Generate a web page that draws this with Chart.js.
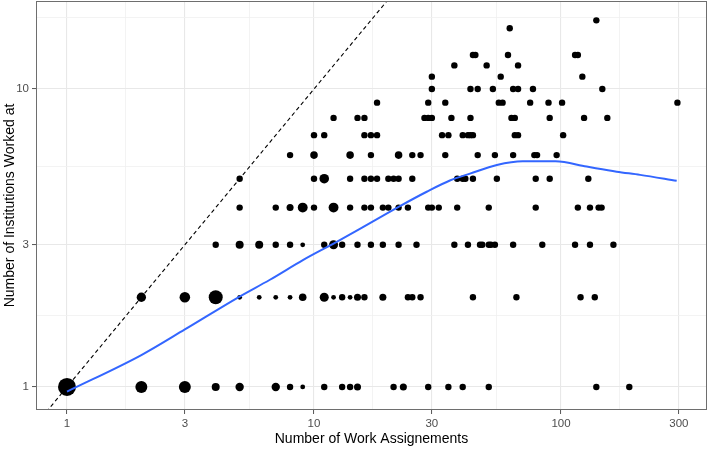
<!DOCTYPE html>
<html>
<head>
<meta charset="utf-8">
<script src="https://cdn.jsdelivr.net/npm/chart.js@4.4.0/dist/chart.umd.min.js"></script>
<style>
  html, body { margin: 0; padding: 0; background: #fff; }
</style>
</head>
<body>
<canvas id="chart" width="709" height="450" style="width:709px;height:450px;display:block"></canvas>
<script>
// number of institutions (one entry per row of points)
const institutions = [1, 2, 3, 4, 5, 6, 7, 8, 9, 10, 11, 12, 13, 16, 17];

// number of work assignments for each row
const assignments = [
  [1, 2, 3, 4, 5, 7, 8, 9, 11, 13, 14, 15, 21, 23, 29, 35, 40, 51, 139, 189],
  [2, 3, 4, 5, 6, 7, 8, 9, 11, 12, 13, 14, 15, 16, 19, 24, 25, 27, 44, 66, 120, 137],
  [4, 5, 6, 7, 8, 9, 11, 12, 13, 15, 17, 19, 22, 26, 37, 42, 47, 48, 51, 52, 54, 64, 84, 114, 131, 163],
  [5, 7, 8, 9, 10, 12, 14, 16, 17, 19, 20, 22, 24, 29, 30, 32, 38, 51, 79, 117, 131, 142, 146],
  [5, 10, 11, 14, 16, 17, 18, 20, 21, 22, 25, 38, 40, 41, 44, 55, 79, 90, 129],
  [8, 10, 14, 17, 22, 25, 27, 34, 46, 54, 64, 78, 80, 96],
  [10, 11, 16, 17, 18, 33, 35, 40, 42, 43, 44, 65, 67, 102],
  [12, 15, 16, 28, 29, 30, 36, 43, 63, 65, 90, 124, 154],
  [18, 29, 34, 56, 58, 75, 89, 101, 296],
  [30, 43, 46, 53, 64, 67, 77, 147],
  [30, 57, 122],
  [37, 50, 67],
  [44, 45, 61, 114, 117],
  [62],
  [139]
];

// how many people share each point (drives the dot size)
const counts = [
  [69, 21, 21, 5, 6, 6, 2, 1, 2, 2, 2, 3, 2, 3, 2, 2, 2, 2, 2, 2],
  [9, 14, 34, 1, 1, 1, 1, 4, 8, 1, 2, 1, 3, 2, 3, 2, 2, 2, 2, 2, 2, 2],
  [2, 5, 5, 2, 2, 1, 2, 8, 2, 2, 2, 2, 2, 2, 2, 2, 2, 2, 2, 2, 2, 2, 2, 2, 2, 2],
  [2, 2, 3, 11, 2, 11, 2, 2, 2, 2, 2, 2, 2, 2, 2, 2, 2, 2, 2, 2, 2, 2, 2],
  [2, 2, 10, 2, 2, 2, 2, 2, 2, 2, 2, 2, 2, 2, 2, 2, 2, 2, 2],
  [2, 4, 4, 2, 4, 2, 2, 2, 2, 2, 2, 2, 2, 2],
  [2, 2, 2, 2, 2, 2, 2, 2, 2, 2, 2, 2, 2, 2],
  [2, 2, 2, 2, 2, 2, 2, 2, 2, 2, 2, 2, 2],
  [2, 2, 2, 2, 2, 2, 2, 2, 2],
  [2, 2, 2, 2, 2, 2, 2, 2],
  [2, 2, 2],
  [2, 2, 2],
  [2, 2, 2, 2, 2],
  [2],
  [2]
];

// loess smooth (blue line)
const smoothX = [1, 2, 3.0, 4.94, 6.63, 9.05, 12, 15.4, 22.1, 28.6, 35.5, 42.8, 55, 70, 95, 127, 168, 209, 294];
const smoothY = [0.965, 1.28, 1.56, 2.0, 2.29, 2.67, 3.03, 3.40, 4.03, 4.52, 4.93, 5.2, 5.56, 5.72, 5.72, 5.49, 5.28, 5.15, 4.92];

// y = x reference line
const refX = [0.5, 30];
const refY = [0.5, 30];

// axis ticks
const xTicks = [1, 3, 10, 30, 100, 300];
const yTicks = [1, 3, 10];

const FONT = "'Liberation Sans', Arial, Helvetica, sans-serif";
const maxCount = 69;

function radiusFor(n) {
  return 2.4 + 6.6 * Math.sqrt((n - 1) / (maxCount - 1));
}

// minor grid lines sit half way between majors on the log scale
function withMinor(majors) {
  const all = [];
  for (let i = 0; i < majors.length; i++) {
    all.push(majors[i]);
    if (i < majors.length - 1) all.push(Math.sqrt(majors[i] * majors[i + 1]));
  }
  return all;
}
const xGrid = withMinor(xTicks);
const yGrid = withMinor(yTicks).concat([Math.sqrt(10 * 30)]);

const points = [];
institutions.forEach((inst, r) => {
  assignments[r].forEach((a, i) => {
    points.push({ x: a, y: inst, n: counts[r][i] });
  });
});

const panelBorder = {
  id: 'panelBorder',
  afterDraw(chart) {
    const { ctx, chartArea: a } = chart;
    ctx.save();
    ctx.strokeStyle = '#6e6e6e';
    ctx.lineWidth = 1;
    ctx.strokeRect(a.left + 0.5, a.top + 0.5, a.right - a.left - 1, a.bottom - a.top - 1);
    ctx.restore();
  }
};

function gridOpts(majors) {
  const isMajor = c => c.tick && majors.includes(c.tick.value);
  return {
    color: c => isMajor(c) ? '#e8e8e8' : '#f0f0f0',
    lineWidth: c => isMajor(c) ? 1.1 : 0.8,
    tickColor: c => isMajor(c) ? '#555555' : 'rgba(0,0,0,0)',
    tickLength: 4,
    tickWidth: 1
  };
}

function fixSize(prop, size) {
  return s => {
    s[prop] = size;
    s.paddingLeft = 0; s.paddingRight = 0; s.paddingTop = 0; s.paddingBottom = 0;
  };
}

new Chart(document.getElementById('chart').getContext('2d'), {
  type: 'scatter',
  data: {
    datasets: [
      {
        type: 'line',
        data: smoothX.map((x, i) => ({ x: x, y: smoothY[i] })),
        borderColor: '#3366FF',
        borderWidth: 2,
        pointRadius: 0,
        tension: 0.4,
        cubicInterpolationMode: 'monotone',
        fill: false,
        order: 1
      },
      {
        type: 'line',
        data: refX.map((x, i) => ({ x: x, y: refY[i] })),
        borderColor: '#000000',
        borderWidth: 1.1,
        borderDash: [4, 3],
        pointRadius: 0,
        fill: false,
        order: 2
      },
      {
        data: points,
        backgroundColor: '#000000',
        borderWidth: 0,
        pointRadius: c => c.raw ? radiusFor(c.raw.n) : 3,
        order: 3
      }
    ]
  },
  options: {
    responsive: false,
    animation: false,
    events: [],
    layout: { autoPadding: false, padding: { top: 1, right: 2, left: 0, bottom: 0 } },
    plugins: { legend: { display: false }, tooltip: { enabled: false } },
    scales: {
      x: {
        type: 'logarithmic',
        bounds: 'data',
        min: 0.749,
        max: 390,
        afterBuildTicks: s => { s.ticks = xGrid.map(v => ({ value: v })); },
        afterFit: fixSize('height', 40),
        border: { display: false },
        grid: gridOpts(xTicks),
        ticks: {
          autoSkip: false,
          maxRotation: 0,
          padding: 3,
          color: '#4d4d4d',
          font: { family: FONT, size: 11.5 },
          callback: v => xTicks.includes(v) ? String(v) : ''
        },
        title: {
          display: true,
          text: 'Number of Work Assignements',
          color: '#000000',
          font: { family: FONT, size: 14 },
          padding: { top: 0, bottom: 2 }
        }
      },
      y: {
        type: 'logarithmic',
        bounds: 'data',
        min: 0.837,
        max: 19.74,
        afterBuildTicks: s => { s.ticks = yGrid.map(v => ({ value: v })); },
        afterFit: fixSize('width', 36),
        border: { display: false },
        grid: gridOpts(yTicks),
        ticks: {
          autoSkip: false,
          padding: 3,
          color: '#4d4d4d',
          font: { family: FONT, size: 11.5 },
          callback: v => yTicks.includes(v) ? String(v) : ''
        },
        title: {
          display: true,
          text: 'Number of Institutions Worked at',
          color: '#000000',
          font: { family: FONT, size: 14 },
          padding: { top: 2, bottom: 0 }
        }
      }
    }
  },
  plugins: [panelBorder]
});
</script>
</body>
</html>
